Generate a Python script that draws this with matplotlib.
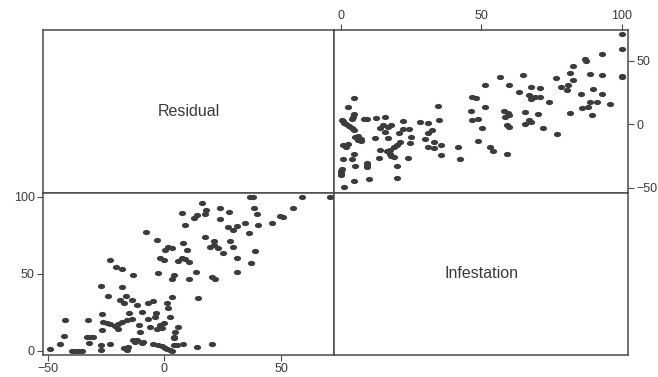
import matplotlib.pyplot as plt
import numpy as np
from matplotlib.path import Path

# residual, infestation pairs
residual = [
    -49, -44.6, -43, -39.5, -38, -36.5, -35.2, -33.2, -31.8, -32.5, -30.4, -27.1, -27.1, -23.2,
    -17.5, -16.1, -15.4, -13.5, -11.8, -9, -12.5, -9.7, -4.8, -2.6, -1, 0.3, 1, 2.4, 3.2, 3.9,
    5.5, 8, 3.9, 3.9, 13.9, 20.3,
    -42.5, -32.8, -26.8, -26.8, -26.1, -24.6, -23.4, -21.3, -19.9, -18, -16.2, -14, -24, -19,
    -16.4, -14, -11.8, -9.7, -6.9, -4.8, 1, 1.7, 2.4, -7, -3.9, -11.1, -6.1, -1.8, -0.4, -3,
    -0.9, 6, 4.6, -10.5, 3.2, 14.5, -3.6, -17.5, -15, -20,
    -27.1, -18.2, -13.5, -20.7, -18.2, -23.5, -2.6, 3.2, 4.3, 10.3, 13.4, 20.3, 21.7, -1.8,
    -0.4, 5.9, 7.4, 9, 10.6, 31.2, 37, 31.2,
    -8, -3.3, 0.3, 1.7, 3.1, 9.6, 8.1, 17.4, 19.6, 21.4, 21.4, 23.1, 25.2, 28.1, 29.5, 38.8,
    36.4,
    7.4, 12.8, 13.9, 16, 17.7, 17.4, 23.8, 27.7, 23.8, 8.9, 27.1, 29.3, 31, 34.5, 40.2, 38.4,
    39.5, 46, 49.5, 50.9, 54.9, 36.7, 38.1, 58.8, 70.9,
]
infestation = [
    1, 4.5, 10, 0, 0, 0, 0.3, 9.3, 9.3, 5, 9.3, 3.9, 0.6, 4.5,
    1.7, 0.6, 2.6, 7, 7, 6, 6, 5, 4.5, 3.9, 3, 1.7, 1, 0.6, 0.2, 3.9,
    4.2, 4.5, 8.2, 9.3, 2.4, 4.5,
    20, 20, 13.6, 24, 19, 17.9, 17.3, 16.3, 17.3, 19, 20, 21, 35.6, 33,
    35.6, 33, 29.8, 25, 31, 32.6, 31, 28, 22.2, 20.5, 22.2, 16.8, 15.7, 16.8, 17.9, 14,
    15, 15.7, 12.5, 12, 34.8, 34.5, 24.4, 31, 24.5, 14,
    42.3, 41.7, 49, 54.2, 53, 59, 50.3, 46.6, 49, 46.5, 51.4, 48, 46.6, 60,
    59, 58.5, 60, 59.5, 58, 51.4, 56.8, 60,
    77, 72, 65.5, 67.6, 67, 65.5, 70.2, 74, 67.6, 71, 69, 67, 63.3, 71, 67.6, 65,
    76.7,
    89.6, 86, 88, 96, 91.4, 88.8, 93, 90, 85.4, 81.7, 80.6, 78.4, 81, 82.7, 81.7, 93,
    88.8, 82.7, 87.5, 87, 93, 100, 100, 100, 100,
]

res_ticks = [-50, 0, 50]
inf_ticks = [0, 50, 100]

dot_color = '#3c3c3c'
line_color = '#4a4a4a'
text_color = '#3a3a3a'

# slightly flattened dot
t = np.linspace(0, 2 * np.pi, 40)
dot = Path(np.column_stack((np.cos(t), 0.72 * np.sin(t))))

plt.rcParams['font.family'] = ['Liberation Sans', 'DejaVu Sans']

fig = plt.figure(figsize=(6.58, 3.77), dpi=100)

x0, xm, x1 = 43 / 658, 334 / 658, 628 / 658
y0, ym, y1 = 1 - 355 / 377, 1 - 193 / 377, 1 - 30 / 377

ax_tl = fig.add_axes([x0, ym, xm - x0, y1 - ym])
ax_tr = fig.add_axes([xm, ym, x1 - xm, y1 - ym])
ax_bl = fig.add_axes([x0, y0, xm - x0, ym - y0])
ax_br = fig.add_axes([xm, y0, x1 - xm, ym - y0])

for ax in [ax_tl, ax_tr, ax_bl, ax_br]:
    for s in ax.spines.values():
        s.set_color(line_color)
        s.set_linewidth(1.1)
    ax.tick_params(colors=line_color, labelcolor=text_color, labelsize=9, length=4,
                   width=0.8, pad=2)

for ax, name in [(ax_tl, 'Residual'), (ax_br, 'Infestation')]:
    ax.set_xticks([])
    ax.set_yticks([])
    ax.text(0.5, 0.5, name, transform=ax.transAxes, ha='center', va='center',
            fontsize=11.5, color=text_color)

ax_bl.scatter(residual, infestation, marker=dot, s=27, color=dot_color, linewidths=0)
ax_bl.set_xlim(-52, 72.6)
ax_bl.set_ylim(-2.6, 102.4)
ax_bl.set_xticks(res_ticks)
ax_bl.set_yticks(inf_ticks)

ax_tr.scatter(infestation, residual, marker=dot, s=27, color=dot_color, linewidths=0)
ax_tr.set_xlim(-2.5, 102.3)
ax_tr.set_ylim(-54, 74)
ax_tr.set_xticks(inf_ticks)
ax_tr.set_yticks(res_ticks)
ax_tr.xaxis.tick_top()
ax_tr.yaxis.tick_right()

fig.savefig('out.png', dpi=100)
